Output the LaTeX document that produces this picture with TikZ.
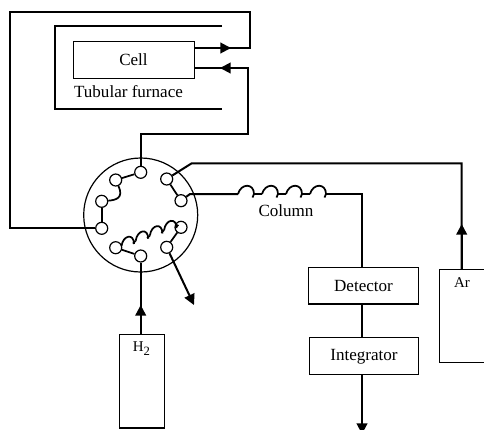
\documentclass[tikz,border=0pt]{standalone}
\usepackage{fontspec}
\setmainfont{Liberation Serif}
\usetikzlibrary{arrows.meta}
\tikzset{
  conn/.style={line width=1.5pt,line join=miter},
  fine conn/.style={line width=1.3pt},
  tipped/.style={conn,-{Triangle[width=8pt,length=8pt]}},
  thin box/.style={draw,line width=0.9pt,inner sep=0pt,anchor=north west,fill=white},
  port/.style={circle,draw,line width=0.9pt,fill=white,minimum size=9pt,inner sep=0pt},
  lab/.style={font=\fontsize{12.8pt}{14pt}\selectfont,inner sep=0pt},
  small lab/.style={font=\fontsize{11.2pt}{13pt}\selectfont,inner sep=0pt},
  wall/.style={line width=1.1pt}
}
\begin{document}
\begin{tikzpicture}[x=0.75pt,y=-0.75pt]
\useasboundingbox (0,0) rectangle (484,429);
\clip (0,0) rectangle (484,429);
% valve body
\node[circle,draw,line width=0.9pt,minimum size=85.5pt,inner sep=0pt] (valve) at (140.7,215) {};
% boxes
\node[thin box,minimum width=90.75pt,minimum height=27.75pt] (cell) at (73,41) {};
\node[lab] (celllab) at (133.5,60) {Cell};
\node[lab] (furnlab) at (128.5,92) {Tubular furnace};
\node[thin box,minimum width=82.75pt,minimum height=27.5pt] (det) at (307.7,266.7) {};
\node[lab] (detlab) at (363.5,286) {Detector};
\node[thin box,minimum width=81.5pt,minimum height=28pt] (int) at (309,336.7) {};
\node[lab] (intlab) at (364,357) {Integrator};
\node[thin box,minimum width=33.6pt,minimum height=69.5pt] (ar) at (439,269) {};
\node[small lab] (arlab) at (462,282.5) {Ar};
\node[thin box,minimum width=34pt,minimum height=70pt] (h2) at (118.7,334) {};
\node[small lab] (h2lab) at (141.5,349) {H\raisebox{-3pt}{\fontsize{9.5pt}{10pt}\selectfont 2}};
\node[lab] (collab) at (286,211) {Column};
% furnace wall
\coordinate (fa) at (222,26);
\coordinate (fb) at (55,26);
\coordinate (fc) at (55,109);
\coordinate (fd) at (222,109);
\draw[wall] (fa) -- (fb) -- (fc) -- (fd);
% ports
\node[port] (p1) at (140.7,172.3) {};
\node[port] (p2) at (166.7,179) {};
\node[port] (p3) at (181,200.7) {};
\node[port] (p4) at (181,227.3) {};
\node[port] (p5) at (166.7,247.3) {};
\node[port] (p6) at (140.7,256) {};
\node[port] (p7) at (115.7,247.7) {};
\node[port] (p8) at (101.7,228.3) {};
\node[port] (p9) at (101.7,201.3) {};
\node[port] (p10) at (115.7,180) {};
% internal valve links
\draw[fine conn] (p1) -- (p10);
\draw[fine conn] (p10) .. controls (124,198) and (116,200) .. (p9);
\draw[fine conn] (p9) -- (p8);
\draw[fine conn] (p2) -- (p3);
\draw[fine conn] (p4) -- (p5);
\draw[fine conn] (p6) -- (p7);
% valve coil
\foreach \i in {0,1,2,3}{
  \begin{scope}[shift={({\i*14.2},{-\i*5.3})}]
    \draw[fine conn] (121.5,246) .. controls (123,235) and (134,233) .. (134,244);
    \draw[fine conn] (133,243.5) -- (135.7,240.7);
  \end{scope}
}
% external lines
\coordinate (t1) at (10,228.3);
\coordinate (t2) at (10,12);
\coordinate (t3) at (250,12);
\coordinate (t4) at (250,48);
\coordinate (t5) at (231,48);
\coordinate (cellin) at (194,48);
\draw[conn] (p8) -- (t1) -- (t2) -- (t3) -- (t4) -- (cellin);
\draw[tipped] (cellin) -- (t5);
\coordinate (r1) at (140.7,134);
\coordinate (r2) at (248,134);
\coordinate (r3) at (248,68);
\coordinate (r4) at (220,68);
\coordinate (cellout) at (194,68);
\draw[conn] (p1) -- (r1) -- (r2) -- (r3) -- (cellout);
\draw[tipped] (r3) -- (r4);
% Ar line
\coordinate (a1) at (191.7,163.3);
\coordinate (a2) at (461.7,163.3);
\coordinate (a3) at (461.7,224);
\draw[conn] (p2) -- (a1) -- (a2) -- (ar.north -| a2);
\draw[tipped] (ar.north -| a2) -- (a3);
% column
\coordinate (c0) at (190,194);
\coordinate (c1) at (238,194);
\coordinate (c2) at (325,194);
\coordinate (c3) at (362,194);
\draw[conn] (p3) -- (c0) -- (c1);
\foreach \i in {0,1,2,3}{
  \begin{scope}[shift={({\i*24},0)}]
    \draw[fine conn] (238,194) .. controls (241,183) and (254,183) .. (254,194) -- (252.5,197.5);
    \draw[fine conn] (253,194) -- (262,194);
  \end{scope}
}
\draw[conn] (c2) -- (c3) -- (c3 |- det.north);
\draw[conn] (c3 |- det.south) -- (c3 |- int.north);
\coordinate (o1) at (362,434);
\draw[tipped] (c3 |- int.south) -- (o1);
% H2 line
\coordinate (h1) at (140.7,305);
\draw[conn] (p6) -- (h2.north -| p6);
\draw[tipped] (h2.north -| p6) -- (h1);
% vent
\coordinate (v1) at (194,305);
\draw[tipped] (p5) -- (v1);
\end{tikzpicture}
\end{document}
